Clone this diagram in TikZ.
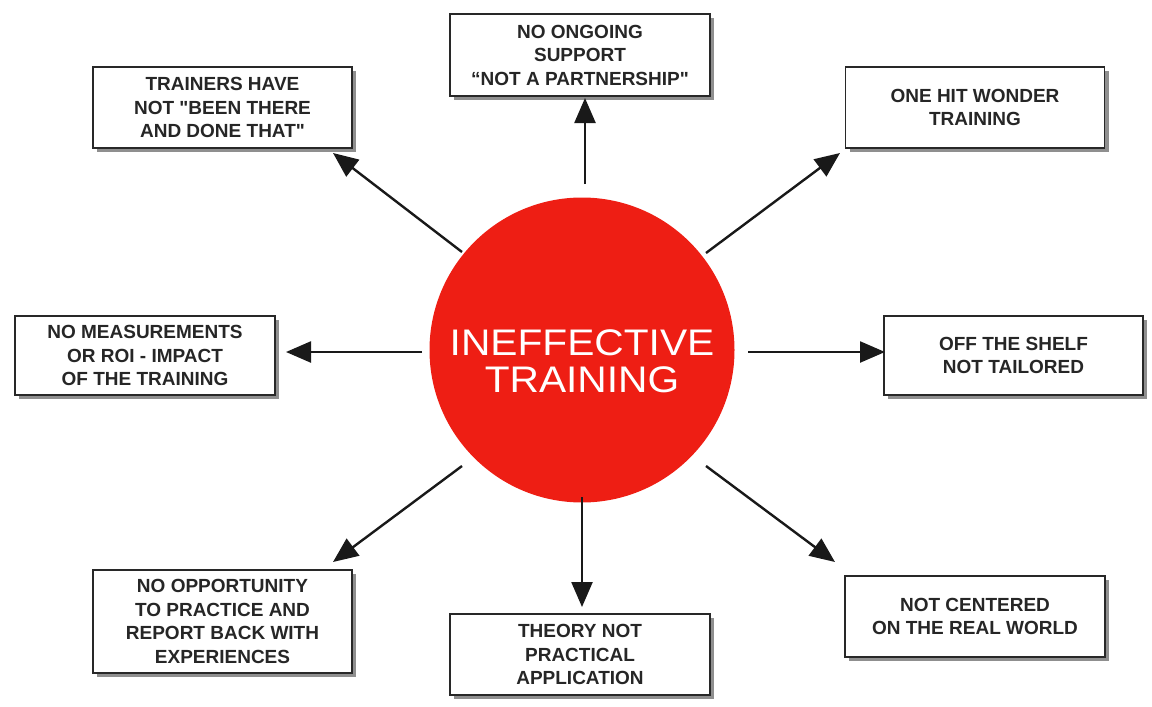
\documentclass[tikz,border=0pt]{standalone}
\usepackage{fontspec}
\setmainfont{Liberation Sans}
\usetikzlibrary{shadows,arrows.meta}
\definecolor{redc}{RGB}{238,30,20}
\definecolor{boxline}{RGB}{40,40,40}
\tikzset{
  box/.style={draw=boxline, line width=1.5pt, fill=white, minimum width=259pt, minimum height=81pt,
    align=center, font=\fontsize{19}{23.5}\selectfont\bfseries, text=black!85,
    drop shadow={shadow xshift=4pt, shadow yshift=-4pt, fill=black!55, opacity=0.8}},
  arr/.style={line width=2.4pt, draw=black!90, -{Triangle[length=25pt,width=21pt]}}
}
\begin{document}
\begin{tikzpicture}[x=1pt,y=-1pt]
\useasboundingbox (0,0) rectangle (1152,707);
\node[circle, fill=redc, minimum size=305pt, inner sep=0pt] (c) at (582,350) {};
\node[text=white, align=center, font=\fontsize{37}{37}\selectfont] (ct) at (582,361) {\scalebox{1.1}[1]{INEFFECTIVE}\\[0pt]\scalebox{1.1}[1]{TRAINING}};

\node[box, minimum width=260pt, minimum height=82pt] (b1) at (580,55) {NO ONGOING\\SUPPORT\\``NOT A PARTNERSHIP\textquotedbl};
\node[box] (b2) at (222.5,107.5) {TRAINERS HAVE\\NOT \textquotedbl BEEN THERE\\AND DONE THAT\textquotedbl};
\node[box] (b3) at (975,107.5) {ONE HIT WONDER\\TRAINING};
\node[box, minimum width=260pt, minimum height=79pt] (b4) at (145,355.5) {NO MEASUREMENTS\\OR ROI - IMPACT\\OF THE TRAINING};
\node[box, minimum height=79pt] (b5) at (1013.5,355.5) {OFF THE SHELF\\NOT TAILORED};
\node[box, minimum height=103pt] (b6) at (222.5,621.5) {NO OPPORTUNITY\\TO PRACTICE AND\\REPORT BACK WITH\\EXPERIENCES};
\node[box, minimum width=260pt] (b7) at (580,654.5) {THEORY NOT\\PRACTICAL\\APPLICATION};
\node[box, minimum width=260pt] (b8) at (975,616.5) {NOT CENTERED\\ON THE REAL WORLD};

\coordinate (s1) at (585,184); \coordinate (e1) at (585,98);
\coordinate (s2) at (462,252); \coordinate (e2) at (333,153);
\coordinate (s3) at (706,253); \coordinate (e3) at (840,153);
\coordinate (s4) at (422,352); \coordinate (e4) at (286,352);
\coordinate (s5) at (748,352); \coordinate (e5) at (885,352);
\coordinate (s6) at (462,466); \coordinate (e6) at (333,562);
\coordinate (s7) at (582,497); \coordinate (e7) at (582,607);
\coordinate (s8) at (706,466); \coordinate (e8) at (835,562);
\foreach \i in {1,...,8} \draw[arr] (s\i) -- (e\i);
\end{tikzpicture}
\end{document}
